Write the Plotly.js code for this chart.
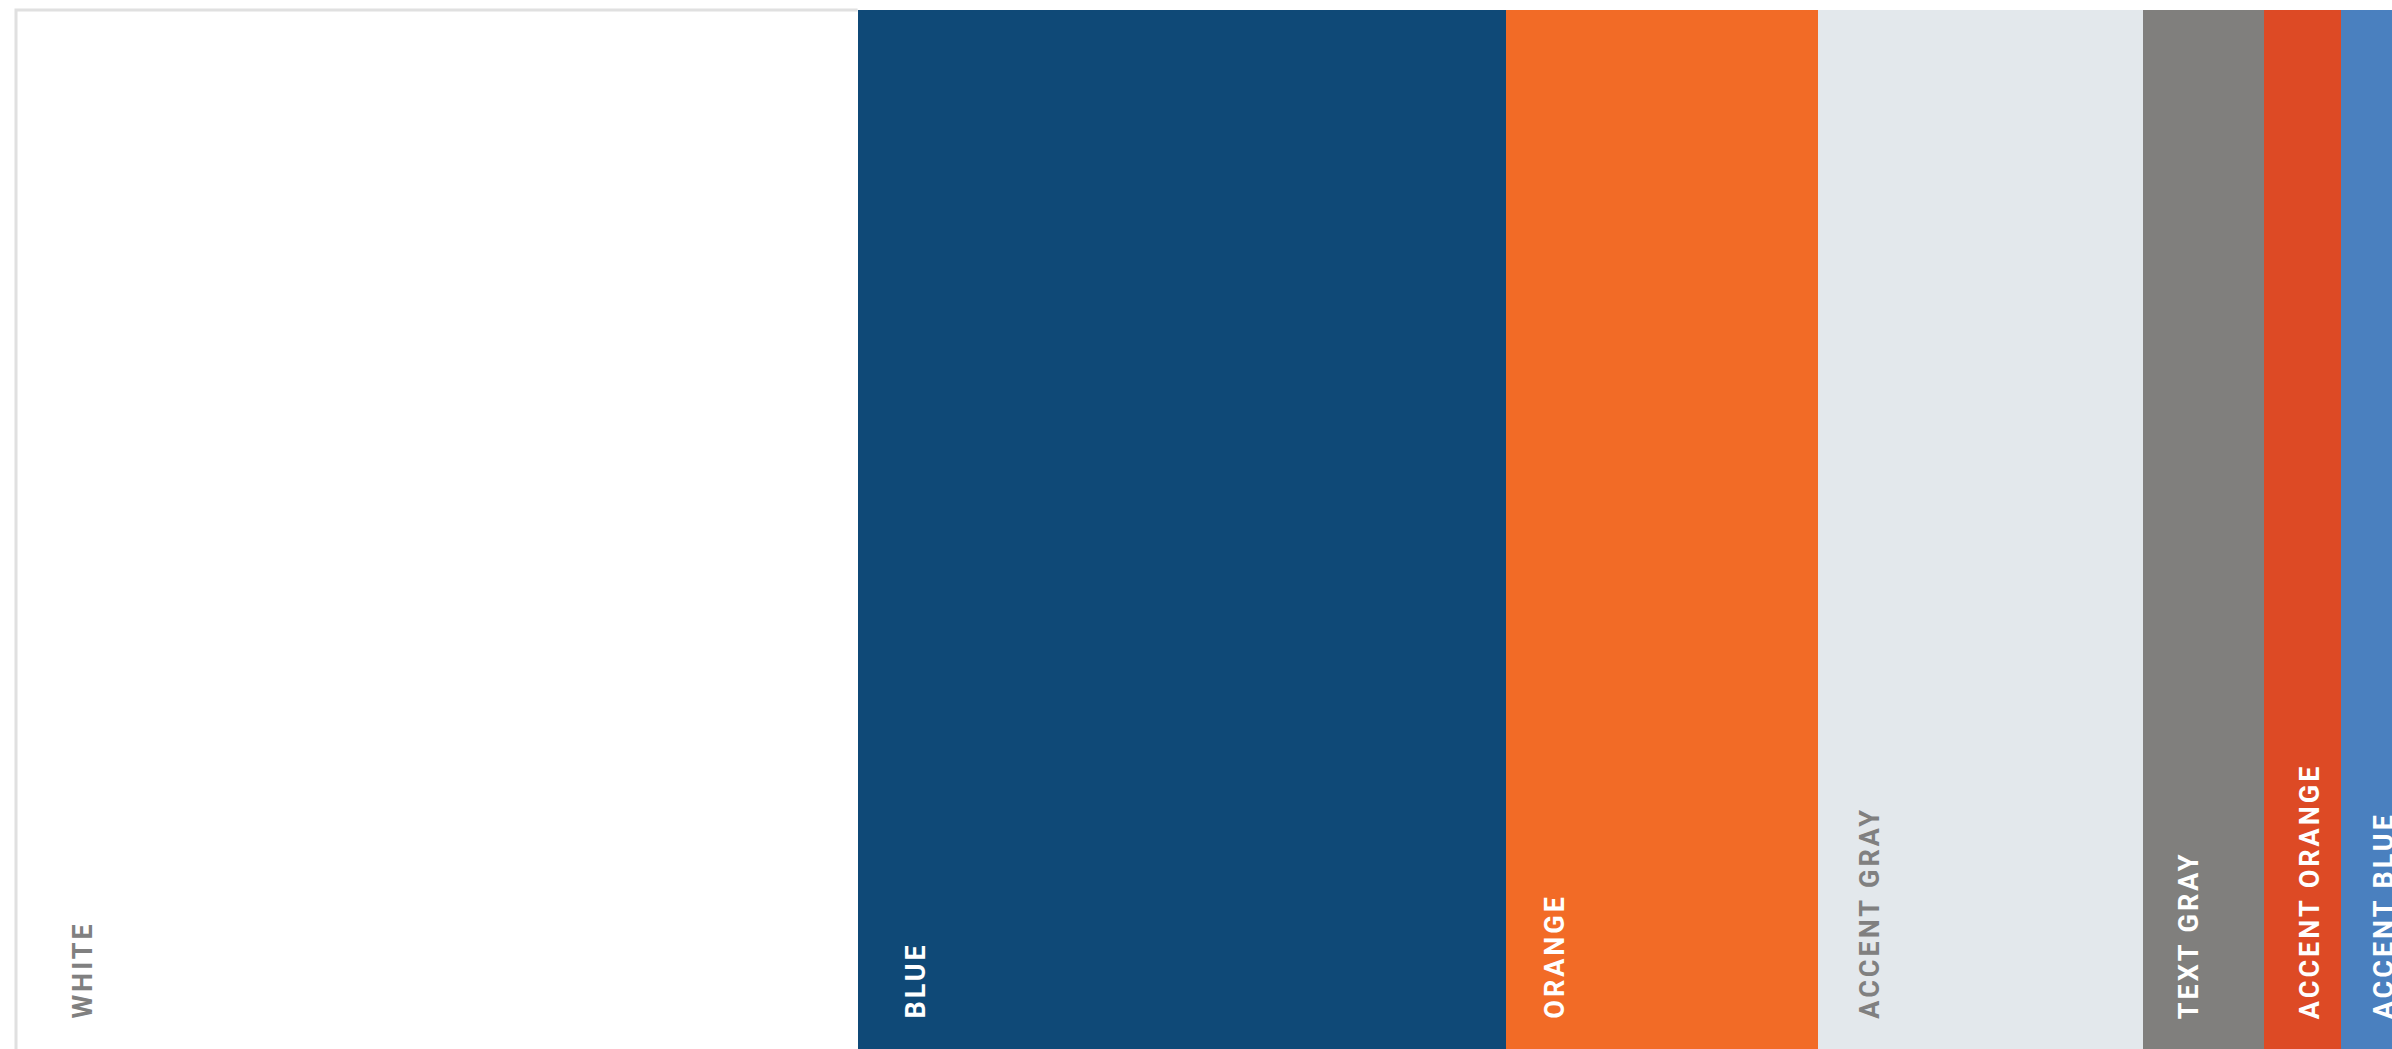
<!DOCTYPE html>
<html>
<head>
<meta charset="utf-8">
<script src="https://cdn.plot.ly/plotly-3.0.1.min.js"></script>
<style>
  html, body { margin: 0; padding: 0; background: #ffffff; overflow: hidden; }
  #chart { width: 2392px; height: 1049px; }
  .annotation-text { letter-spacing: 3px; }
</style>
</head>
<body>
<div id="chart"></div>
<script>
// Palette names and their share of the strip (relative widths)
const names = ["WHITE", "BLUE", "ORANGE", "ACCENT GRAY", "TEXT GRAY", "ACCENT ORANGE", "ACCENT BLUE"];
const shares = [36.2, 27.9, 13.4, 14.0, 5.2, 3.3, 3.3];

// Styling (not data)
const fills = ["#FFFFFF", "#0F4977", "#F26B26", "#E3E8EC", "#807F7D", "#DD4A25", "#4A80BF"];
const labelColors = ["#808080", "#FFFFFF", "#FFFFFF", "#808080", "#FFFFFF", "#FFFFFF", "#FFFFFF"];
const labelShift = [48, 40, 30, 34, 28, 28, 25];
const visibleMax = 102.2;

const traces = names.map((n, i) => ({
  type: "bar",
  orientation: "h",
  name: n,
  y: ["palette"],
  x: [shares[i]],
  marker: { color: fills[i], line: { width: 0 } },
  hoverinfo: "skip",
  showlegend: false
}));

let cum = 0;
const annotations = names.map((n, i) => {
  const start = cum;
  cum += shares[i];
  return {
    xref: "x", yref: "paper",
    x: start, y: 0,
    xanchor: "left", yanchor: "bottom",
    xshift: labelShift[i], yshift: 28,
    text: n,
    textangle: -90,
    showarrow: false,
    font: { family: "Roboto, 'DejaVu Sans', sans-serif", size: 27, weight: 700, color: labelColors[i] }
  };
});

const whiteFrac = shares[0] / visibleMax;

const layout = {
  width: 2392,
  height: 1049,
  margin: { l: 16, r: 0, t: 10, b: 0, pad: 0 },
  paper_bgcolor: "#FFFFFF",
  plot_bgcolor: "#FFFFFF",
  barmode: "stack",
  bargap: 0,
  xaxis: { range: [0, visibleMax], visible: false, fixedrange: true },
  yaxis: { range: [-0.5, 0.5], visible: false, fixedrange: true },
  annotations: annotations,
  shapes: [{
    type: "path",
    xref: "paper", yref: "paper",
    path: "M 0,0 L 0,1 L " + whiteFrac + ",1",
    line: { color: "#E0E0E0", width: 3 },
    layer: "above"
  }]
};

Plotly.newPlot("chart", traces, layout, { displayModeBar: false, staticPlot: true });
</script>
</body>
</html>
